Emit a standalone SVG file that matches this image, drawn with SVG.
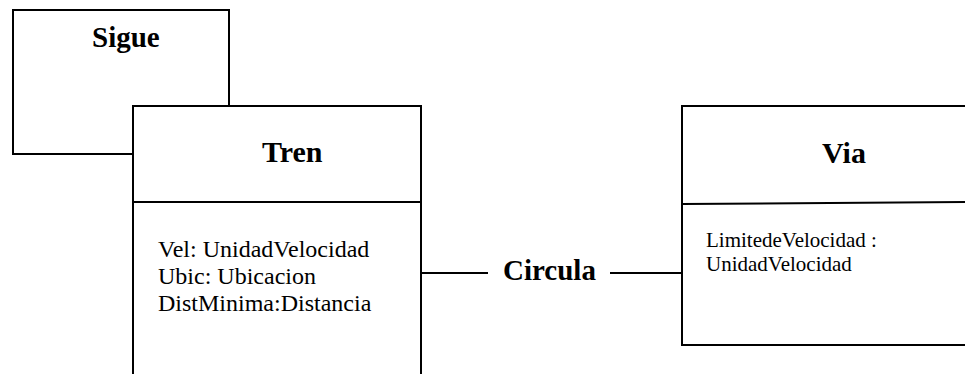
<svg xmlns="http://www.w3.org/2000/svg" width="965" height="374" viewBox="0 0 965 374">
<style>
.box{fill:#fff;stroke:#000;stroke-width:2}
.ln{stroke:#000;stroke-width:2;fill:none}
.title{font-family:"Liberation Serif","Times New Roman",serif;font-weight:bold;font-size:30px;fill:#000}
.attr{font-family:"Liberation Serif","Times New Roman",serif;font-size:24px;fill:#000}
.attr2{font-family:"Liberation Serif","Times New Roman",serif;font-size:21px;fill:#000}
</style>
<rect width="965" height="374" fill="#fff"/>
<g id="sigue">
<rect class="box" x="13" y="10" width="216" height="144"/>
<text class="title" x="92" y="47" style="font-size:29px">Sigue</text>
</g>
<g id="tren">
<rect class="box" x="133" y="106" width="288" height="280"/>
<line class="ln" x1="133" y1="202" x2="421" y2="202"/>
<text class="title" x="262" y="162">Tren</text>
<text class="attr" x="158" y="257">Vel: UnidadVelocidad</text>
<text class="attr" x="158" y="284">Ubic: Ubicacion</text>
<text class="attr" x="158" y="311">DistMinima:Distancia</text>
</g>
<g id="via">
<rect class="box" x="682" y="106" width="290" height="239"/>
<line class="ln" x1="682" y1="204" x2="972" y2="202"/>
<text class="title" x="822" y="163">Via</text>
<text class="attr2" x="706" y="247">LimitedeVelocidad :</text>
<text class="attr2" x="706" y="271">UnidadVelocidad</text>
</g>
<g id="connectors">
<line class="ln" x1="421" y1="273" x2="488" y2="273"/>
<line class="ln" x1="610" y1="273" x2="682" y2="273"/>
<text class="title" x="503" y="280" style="font-size:29px">Circula</text>
</g>
</svg>
